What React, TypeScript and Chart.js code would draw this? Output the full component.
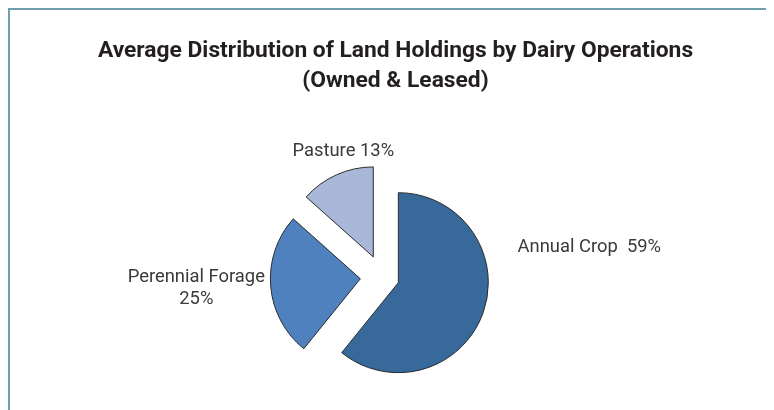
import React, { useEffect, useRef } from "react";
import { Chart, registerables } from "chart.js";

Chart.register(...registerables);

// ---- data ----
const categories = ["Annual Crop", "Perennial Forage", "Pasture"];
const shares = [59, 25, 13];
const labelJoiners = ["  ", "\n", " "];
const titleLines = [
  "Average Distribution of Land Holdings by Dairy Operations",
  "(Owned & Leased)",
];

// ---- style ----
const sliceColors = ["#37699b", "#4e81bd", "#a9b8d8"];
const explodeDistance = [17, 22, 22];
const labelOffsets: [number, number][] = [
  [207, -25],
  [-186, 5],
  [-39, -121],
];
const LABEL_FONT = "18.4px Roboto";
const LABEL_LINE = 22;
const TITLE_FONT = "bold 22.8px Roboto";
const TITLE_CENTER_X = 385.5;
const TITLE_BASELINES = [47, 77];
const BORDER = "#6f9eae";

const explodePlugin = {
  id: "explodeSlices",
  afterDatasetUpdate(chart: any, args: any) {
    const meta = chart.getDatasetMeta(args.index);
    meta.data.forEach((arc: any, i: number) => {
      const mid = (arc.startAngle + arc.endAngle) / 2;
      const d = explodeDistance[i] || 0;
      arc.x += Math.cos(mid) * d;
      arc.y += Math.sin(mid) * d;
    });
  },
};

const textPlugin = {
  id: "textLabels",
  afterDraw(chart: any) {
    const ctx = chart.ctx;
    const { left, right, top, bottom } = chart.chartArea;
    const cx = (left + right) / 2;
    const cy = (top + bottom) / 2;
    ctx.save();
    ctx.textAlign = "center";
    ctx.textBaseline = "alphabetic";
    ctx.fillStyle = "#231f20";
    ctx.font = TITLE_FONT;
    titleLines.forEach((t, i) => ctx.fillText(t, TITLE_CENTER_X, TITLE_BASELINES[i]));
    ctx.fillStyle = "#3a3a3a";
    ctx.font = LABEL_FONT;
    categories.forEach((cat, i) => {
      const text = `${cat}${labelJoiners[i]}${shares[i]}%`;
      const lines = text.split("\n");
      const [dx, dy] = labelOffsets[i];
      lines.forEach((ln, j) => ctx.fillText(ln, cx + dx, cy + dy + j * LABEL_LINE));
    });
    ctx.restore();
  },
};

export default function App() {
  const ref = useRef<HTMLCanvasElement | null>(null);
  useEffect(() => {
    if (!ref.current) return;
    const chart = new Chart(ref.current, {
      type: "pie",
      data: {
        labels: categories,
        datasets: [
          {
            data: shares,
            backgroundColor: sliceColors,
            borderColor: "#2b2b2b",
            borderWidth: 1,
            borderJoinStyle: "miter",
          } as any,
        ],
      },
      options: {
        animation: false,
        responsive: false,
        radius: 90,
        layout: { padding: { left: 0, right: 19.4, top: 134, bottom: 0 } },
        plugins: {
          legend: { display: false },
          title: { display: false },
          tooltip: { enabled: false },
        },
      } as any,
      plugins: [explodePlugin, textPlugin],
    });
    return () => chart.destroy();
  }, []);
  return (
    <div
      style={{
        marginRight: -8,
        height: 402,
        boxSizing: "border-box",
        borderTop: `2px solid ${BORDER}`,
        borderLeft: `2px solid ${BORDER}`,
        overflow: "hidden",
      }}
    >
      <canvas ref={ref} width={764} height={400} style={{ display: "block" }} />
    </div>
  );
}
